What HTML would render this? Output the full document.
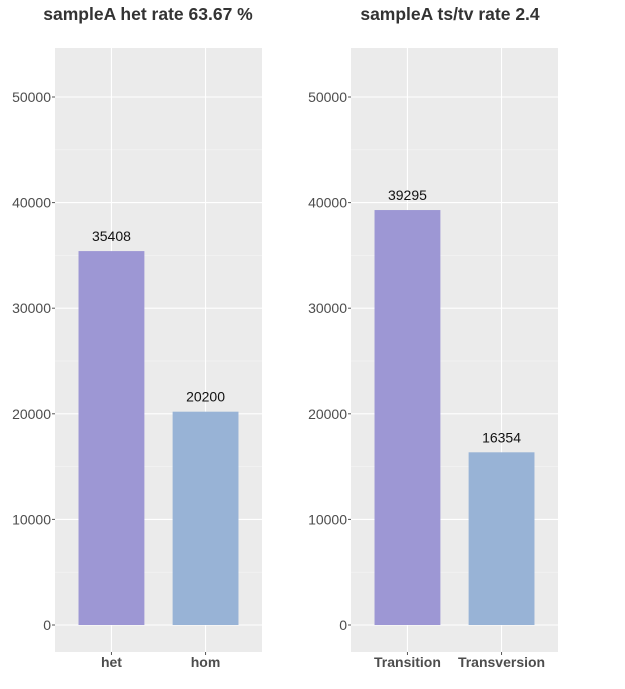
<!DOCTYPE html>
<html><head><meta charset="utf-8"><style>
body{margin:0;background:#fff;}
svg{display:block;font-family:"Liberation Sans",sans-serif;}
</style></head><body>
<svg id="c" width="625" height="689"></svg>
<script>
const hetCategories=["het","hom"];
const hetValues=[35408,20200];
const tstvCategories=["Transition","Transversion"];
const tstvValues=[39295,16354];
const yTicks=[0,10000,20000,30000,40000,50000];
const titles=["sampleA het rate 63.67 %","sampleA ts/tv rate 2.4"];
const colors=["#9d97d4","#98b3d6"];
const NS="http://www.w3.org/2000/svg";
const svg=document.getElementById('c');
function mk(t,a,p){const e=document.createElementNS(NS,t);for(const k in a)e.setAttribute(k,a[k]);(p||svg).appendChild(e);return e;}
const y0=625,ppu=(625-97)/50000;
function y(v){return y0-v*ppu;}
function panel(px,cats,vals,title,titleX,idx){
  const g=mk('g',{});
  
  
  const w=207,top=48,bot=652;
  const bg=mk('rect',{x:px,y:top,width:w,height:bot-top,fill:'#ebebeb'},g);
  
  
  const unit=w/(cats.length+0.2);
  function x(i){return px+unit*(0.6+i);}
  for(let v=5000;v<=55000;v+=10000){if(y(v)>top)mk('line',{x1:px,x2:px+w,y1:y(v),y2:y(v),stroke:'#f5f5f5','stroke-width':0.6},g);}
  yTicks.forEach(v=>{
    mk('line',{x1:px,x2:px+w,y1:y(v),y2:y(v),stroke:'#fff','stroke-width':1.1},g);
    mk('line',{x1:px-3,x2:px,y1:y(v),y2:y(v),stroke:'#555','stroke-width':1},g);
    const t=mk('text',{x:px-4,y:y(v)+5,'text-anchor':'end','font-size':14,fill:'#4d4d4d'},g);
    t.textContent=v;
    
    
  });
  cats.forEach((c,i)=>{
    mk('line',{x1:x(i),x2:x(i),y1:top,y2:bot,stroke:'#fff','stroke-width':1.1},g);
  });
  cats.forEach((c,i)=>{
    const bw=unit*0.7;
    const r=mk('rect',{x:x(i)-bw/2,y:y(vals[i]),width:bw,height:y(0)-y(vals[i]),fill:colors[i]},g);
    
    
    const vt=mk('text',{x:x(i),y:y(vals[i])-10,'text-anchor':'middle','font-size':14,fill:'#111'},g);
    vt.textContent=vals[i];
    
    
    mk('line',{x1:x(i),x2:x(i),y1:bot,y2:bot+3,stroke:'#555'},g);
    const xt=mk('text',{x:x(i),y:667,'text-anchor':'middle','font-size':14,'font-weight':'bold',fill:'#4d4d4d'},g);
    xt.textContent=c;
    
    
  });
  const tt=mk('text',{x:titleX,y:20,'text-anchor':'middle','font-size':17.5,'font-weight':'bold',fill:'#333'},g);
  tt.textContent=title;
  
  
}
panel(55,hetCategories,hetValues,titles[0],148,'het');
panel(351,tstvCategories,tstvValues,titles[1],450,'tstv');
</script>
</body></html>
